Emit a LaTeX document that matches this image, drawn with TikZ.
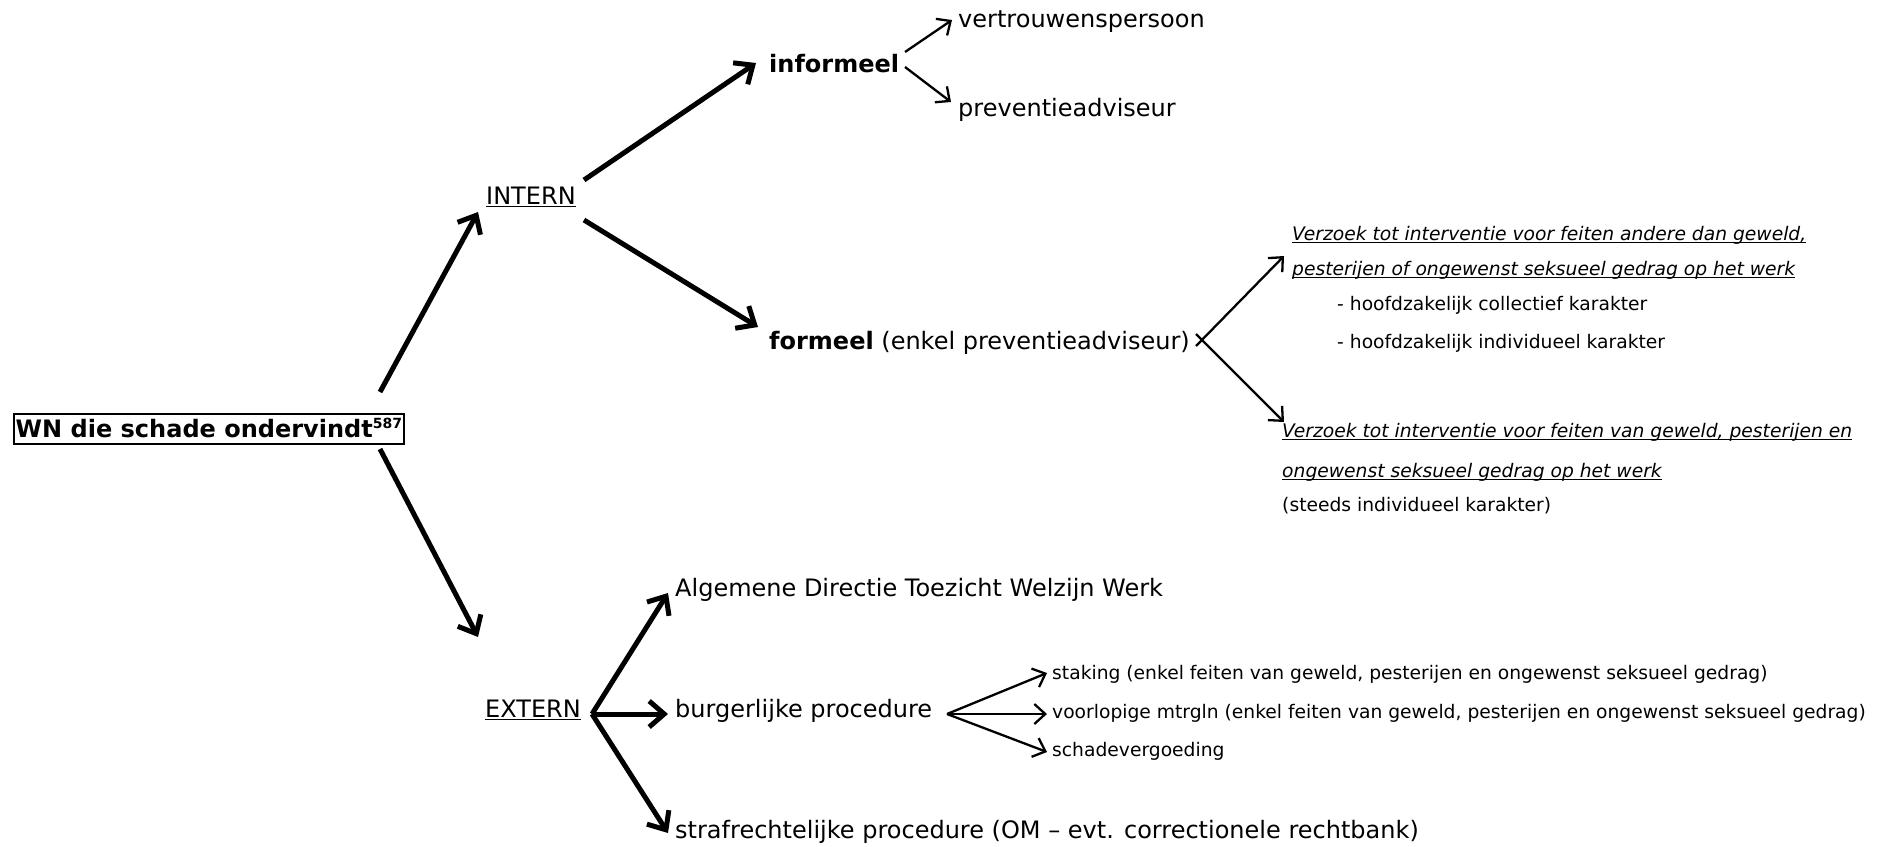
\documentclass[tikz,border=0pt]{standalone}
\usepackage{fontspec}
\setmainfont{DejaVu Sans}
\usetikzlibrary{arrows.meta}
\newsavebox\ulbox
\newcommand{\ulx}[1]{\leavevmode\sbox\ulbox{#1}\rlap{\rule[-3pt]{\wd\ulbox}{1.5pt}}\usebox\ulbox}
\tikzset{
  bigtxt/.style={font=\fontsize{24}{28}\selectfont, inner sep=0pt, anchor=base west},
  smalltxt/.style={font=\fontsize{18.7}{22}\selectfont, inner sep=0pt, anchor=base west},
  heavyarrow/.style={line width=5pt, -{Straight Barb[length=15pt,width=26pt]}},
  lightarrow/.style={line width=2.3pt, -{Straight Barb[length=11pt,width=20pt]}},
}
\begin{document}
\begin{tikzpicture}[x=1pt,y=-1pt]
\useasboundingbox (0,0) rectangle (1886,846);

% nodes
\node[draw, line width=1.5pt, inner xsep=2pt, inner ysep=0pt, text height=23pt, text depth=7pt,
      anchor=base west, font=\fontsize{24}{28}\selectfont\bfseries] (wn) at (13,437)
      {WN die schade ondervindt\raisebox{9pt}{\fontsize{14}{14}\selectfont\bfseries 587}};
\node[bigtxt] (intern) at (486,204) {\ulx{INTERN}};
\node[bigtxt] (extern) at (485,717) {\ulx{EXTERN}};
\node[bigtxt] (informeel) at (769,72) {\textbf{informeel}};
\node[bigtxt] (formeel) at (769,349) {\textbf{formeel} (enkel preventieadviseur)};
\node[bigtxt] (vertr) at (958,27) {vertrouwenspersoon};
\node[bigtxt] (prev) at (958,116) {preventieadviseur};
\node[smalltxt] (v1a) at (1292,240) {\ulx{\itshape Verzoek tot interventie voor feiten andere dan geweld,}};
\node[smalltxt] (v1b) at (1292,275) {\ulx{\itshape pesterijen of ongewenst seksueel gedrag op het werk}};
\node[smalltxt] (v1c) at (1337,310) {- hoofdzakelijk collectief karakter};
\node[smalltxt] (v1d) at (1337,348) {- hoofdzakelijk individueel karakter};
\node[smalltxt] (v2a) at (1282,437) {\ulx{\itshape Verzoek tot interventie voor feiten van geweld, pesterijen en}};
\node[smalltxt] (v2b) at (1282,477) {\ulx{\itshape ongewenst seksueel gedrag op het werk}};
\node[smalltxt] (v2c) at (1282,511) {(steeds individueel karakter)};
\node[bigtxt] (adtww) at (675,596) {Algemene Directie Toezicht Welzijn Werk};
\node[bigtxt] (burg) at (675,717) {burgerlijke procedure};
\node[bigtxt] (straf) at (675,838) {strafrechtelijke procedure (OM – evt. correctionele rechtbank)};
\node[smalltxt] (stak) at (1052,679) {staking (enkel feiten van geweld, pesterijen en ongewenst seksueel gedrag)};
\node[smalltxt] (voorl) at (1052,718) {voorlopige mtrgln (enkel feiten van geweld, pesterijen en ongewenst seksueel gedrag)};
\node[smalltxt] (schade) at (1052,756) {schadevergoeding};

% connector end points
\coordinate (wn-up) at (380,392);
\coordinate (wn-down) at (380,449);
\coordinate (intern-in) at (478,212);
\coordinate (extern-in) at (478,637);
\coordinate (intern-up) at (584,180);
\coordinate (intern-down) at (584,220);
\coordinate (informeel-in) at (756,63);
\coordinate (formeel-in) at (758,327);
\coordinate (informeel-out1) at (905,52);
\coordinate (informeel-out2) at (905,67);
\coordinate (vertr-in) at (952,20);
\coordinate (prev-in) at (951,102);
\coordinate (formeel-outa) at (1196,346);
\coordinate (formeel-outb) at (1196,334);
\coordinate (v1-in) at (1284,256);
\coordinate (v2-in) at (1284,422);
\coordinate (extern-fork) at (592,714);
\coordinate (adtww-in) at (668,593);
\coordinate (burg-in) at (668,714);
\coordinate (straf-in) at (668,833);
\coordinate (burg-fork) at (947,714);
\coordinate (stak-in) at (1047,673);
\coordinate (voorl-in) at (1047,714);
\coordinate (schade-in) at (1047,752);

% connectors
\draw[heavyarrow] (wn-up) -- (intern-in);
\draw[heavyarrow] (wn-down) -- (extern-in);
\draw[heavyarrow] (intern-up) -- (informeel-in);
\draw[heavyarrow] (intern-down) -- (formeel-in);
\draw[lightarrow] (informeel-out1) -- (vertr-in);
\draw[lightarrow] (informeel-out2) -- (prev-in);
\draw[lightarrow] (formeel-outa) -- (v1-in);
\draw[lightarrow] (formeel-outb) -- (v2-in);
\draw[heavyarrow] (extern-fork) -- (adtww-in);
\draw[heavyarrow] (extern-fork) -- (burg-in);
\draw[heavyarrow] (extern-fork) -- (straf-in);
\draw[lightarrow] (burg-fork) -- (stak-in);
\draw[lightarrow] (burg-fork) -- (voorl-in);
\draw[lightarrow] (burg-fork) -- (schade-in);
\end{tikzpicture}
\end{document}
